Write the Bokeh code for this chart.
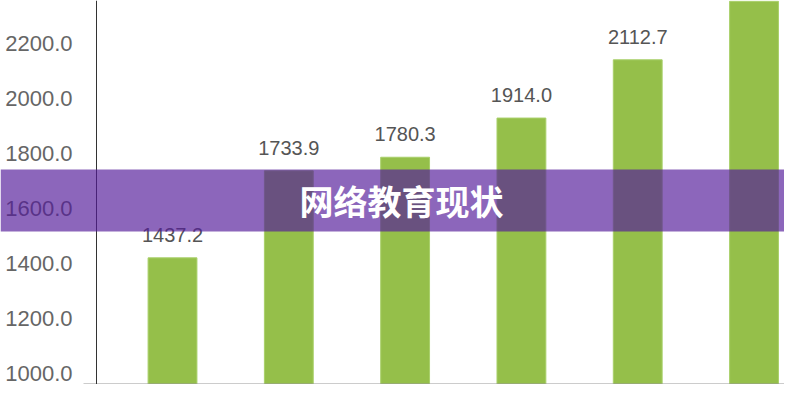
from bokeh.plotting import figure
from bokeh.models import (Range1d, LinearAxis, FixedTicker, PrintfTickFormatter,
                          Label, BoxAnnotation, ColumnDataSource)
from bokeh.core.properties import value
from bokeh.embed import file_html
from bokeh.resources import INLINE

# ---- data ----
positions = [0, 1, 2, 3, 4, 5]
values = [1437.2, 1733.9, 1780.3, 1914.0, 2112.7, 2312.5]
value_labels = ["%.1f" % v for v in values]
shown_labels = 5          # the last bar's label lies above the visible area
y_ticks = [1000, 1200, 1400, 1600, 1800, 2000, 2200]
title_text = "网络教育现状"

GREEN = "#95BF4A"
GRAY_TXT = "#555555"

W, H = 784, 384
X0, X1 = -1.479, 5.262          # x range across the whole picture
AXIS_X = -0.6535                 # where the value axis stands
BASE = 1005.1                    # value at the bottom of the plot area

p = figure(width=W, height=H, output_backend="svg", toolbar_location=None,
           x_range=Range1d(X0, X1), y_range=Range1d(BASE, 2315.0),
           y_axis_location=None, min_border_left=0, min_border_right=0,
           min_border_top=0, min_border_bottom=0)
p.extra_y_ranges = {"axis": Range1d(959.5, 2357.3)}
p.outline_line_color = None
p.xgrid.visible = False
p.ygrid.visible = False
p.background_fill_color = "white"
p.border_fill_color = "white"

yaxis = LinearAxis(y_range_name="axis", ticker=FixedTicker(ticks=y_ticks),
                   formatter=PrintfTickFormatter(format="%.1f"),
                   fixed_location=AXIS_X)
yaxis.axis_line_color = "#333333"
yaxis.axis_line_width = 1
yaxis.major_tick_line_color = None
yaxis.minor_tick_line_color = None
yaxis.major_tick_out = 0
yaxis.major_tick_in = 0
yaxis.major_label_standoff = 24
yaxis.major_label_text_font = "Liberation Sans"
yaxis.major_label_text_font_size = "22px"
yaxis.major_label_text_color = "#666666"
p.add_layout(yaxis, "left")

xa = p.xaxis[0]
xa.ticker = FixedTicker(ticks=[])
xa.bounds = (-0.765, X1)
xa.axis_line_color = "#9a9a9a"
xa.axis_line_width = 2
xa.major_tick_line_color = None
xa.minor_tick_line_color = None
xa.major_tick_out = 0
xa.major_tick_in = 0
xa.major_label_standoff = 0

bars = ColumnDataSource(dict(x=positions, top=values))
p.vbar(x="x", top="top", bottom=BASE, width=0.42, source=bars,
       fill_color=GREEN, line_color="#a9d06a", line_width=1)

labs = ColumnDataSource(dict(x=positions[:shown_labels], y=values[:shown_labels],
                             lab=value_labels[:shown_labels]))
p.text(x="x", y="y", text="lab", source=labs, text_align="center",
       text_baseline="alphabetic", y_offset=-23,
       text_font=value("Liberation Sans"), text_font_size="20px",
       text_color=GRAY_TXT)

# translucent purple band across the whole picture with the title on it
band = BoxAnnotation(top=169, bottom=231, top_units="canvas", bottom_units="canvas",
                     fill_color="#541B9A", fill_alpha=0.67, line_color=None,
                     level="overlay")
p.add_layout(band)

title = Label(x=401, y=200, x_units="canvas", y_units="canvas", text=title_text,
              text_align="center", text_baseline="middle",
              text_font="Noto Sans CJK SC", text_font_style="bold",
              text_font_size="34px", text_color="white", level="overlay")
p.add_layout(title)

open("out.html", "w").write(file_html(p, INLINE))
